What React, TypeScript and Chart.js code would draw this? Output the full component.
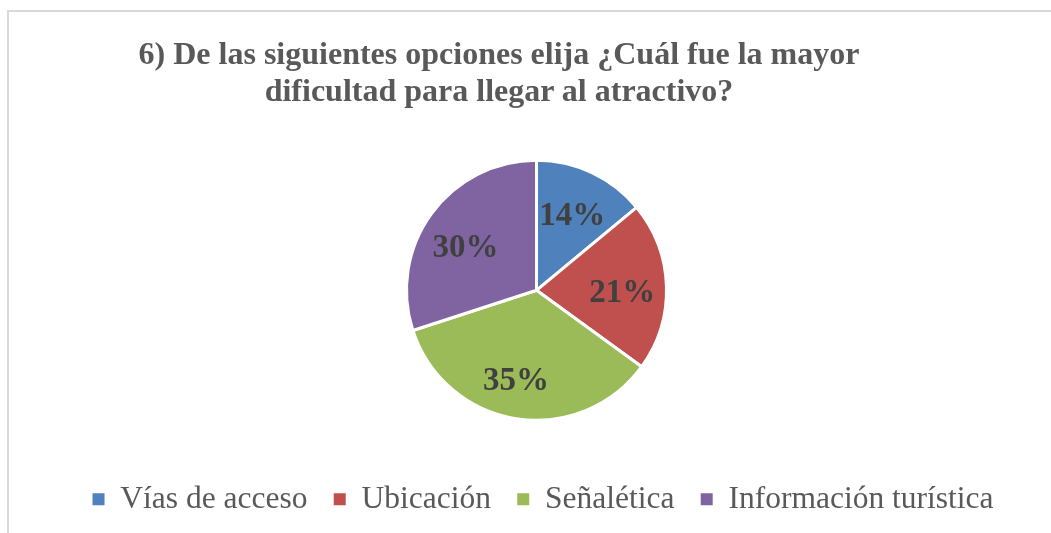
import React, { useEffect, useRef } from "react";
import { Chart, registerables } from "chart.js";

Chart.register(...registerables);

const titleLines = [
  "6) De las siguientes opciones elija ¿Cuál fue la mayor",
  "dificultad para llegar al atractivo?",
];
const categories = ["Vías de acceso", "Ubicación", "Señalética", "Información turística"];
const values = [14, 21, 35, 30];
const valueLabels = ["14%", "21%", "35%", "30%"];
const colors = ["#4F81BD", "#C0504D", "#9BBB59", "#8064A2"];

// label placement style: radial fraction and angular nudge (degrees)
const labelRadius = [0.645, 0.66, 0.7, 0.645];
const labelNudge = [0, 2, 4, -4];

const pieLabels = {
  id: "pieLabels",
  afterDatasetsDraw(chart: any) {
    const ctx = chart.ctx;
    const meta = chart.getDatasetMeta(0);
    ctx.save();
    ctx.font = "bold 33px 'Liberation Serif'";
    ctx.fillStyle = "#404040";
    ctx.textAlign = "center";
    ctx.textBaseline = "middle";
    meta.data.forEach((arc: any, i: number) => {
      const p = arc.getProps(["x", "y", "startAngle", "endAngle", "outerRadius"], true);
      const mid = (p.startAngle + p.endAngle) / 2 + (labelNudge[i] * Math.PI) / 180;
      const r = p.outerRadius * labelRadius[i];
      ctx.fillText(valueLabels[i], p.x + Math.cos(mid) * r, p.y + Math.sin(mid) * r + 2.5);
    });
    ctx.restore();
  },
};

// nudge the legend row slightly right of the pie centre, as in the reference
const legendShift = {
  id: "legendShift",
  afterLayout(chart: any) {
    if (chart.legend) {
      chart.legend.left += 6.5;
      chart.legend.right += 6.5;
    }
  },
};

export default function App() {
  const ref = useRef<HTMLCanvasElement | null>(null);

  useEffect(() => {
    if (!ref.current) return;
    const chart = new Chart(ref.current, {
      type: "pie",
      data: {
        labels: categories,
        datasets: [
          {
            data: values,
            backgroundColor: colors,
            borderColor: "#ffffff",
            borderWidth: 3,
            radius: 130,
          },
        ],
      },
      options: {
        responsive: false,
        animation: false,
        layout: { padding: { left: 22, right: 0, top: 123.4, bottom: 8 } },
        plugins: {
          title: { display: false },
          tooltip: { enabled: false },
          legend: {
            display: true,
            position: "bottom",
            labels: {
              boxWidth: 12,
              boxHeight: 12,
              padding: 26.3,
              color: "#595959",
              font: { family: "'Liberation Serif'", size: 31.5 },
              generateLabels(chart: any) {
                const items = Chart.overrides.pie.plugins.legend.labels.generateLabels(chart);
                return items.map((it: any) => ({ ...it, lineWidth: 0, strokeStyle: it.fillStyle }));
              },
            },
          },
        },
      },
      plugins: [pieLabels, legendShift],
    });
    return () => chart.destroy();
  }, []);

  return (
    <div
      style={{
        position: "fixed",
        left: 0,
        top: 0,
        width: 1051,
        height: 533,
        overflow: "hidden",
        background: "#ffffff",
      }}
    >
      <div
        style={{
          position: "absolute",
          left: 7,
          top: 10,
          width: 2000,
          height: 2000,
          border: "2px solid #d9d9d9",
        }}
      />
      <canvas
        ref={ref}
        width={1051}
        height={533}
        style={{ position: "absolute", left: 0, top: 0, width: 1051, height: 533 }}
      />
      <div
        style={{
          position: "absolute",
          left: 0,
          top: 34.75,
          width: 998,
          textAlign: "center",
          fontFamily: "'Liberation Serif'",
          fontWeight: "bold",
          fontSize: 32,
          lineHeight: "37.5px",
          color: "#595959",
          whiteSpace: "nowrap",
        }}
      >
        {titleLines[0]}
        <br />
        {titleLines[1]}
      </div>
    </div>
  );
}
